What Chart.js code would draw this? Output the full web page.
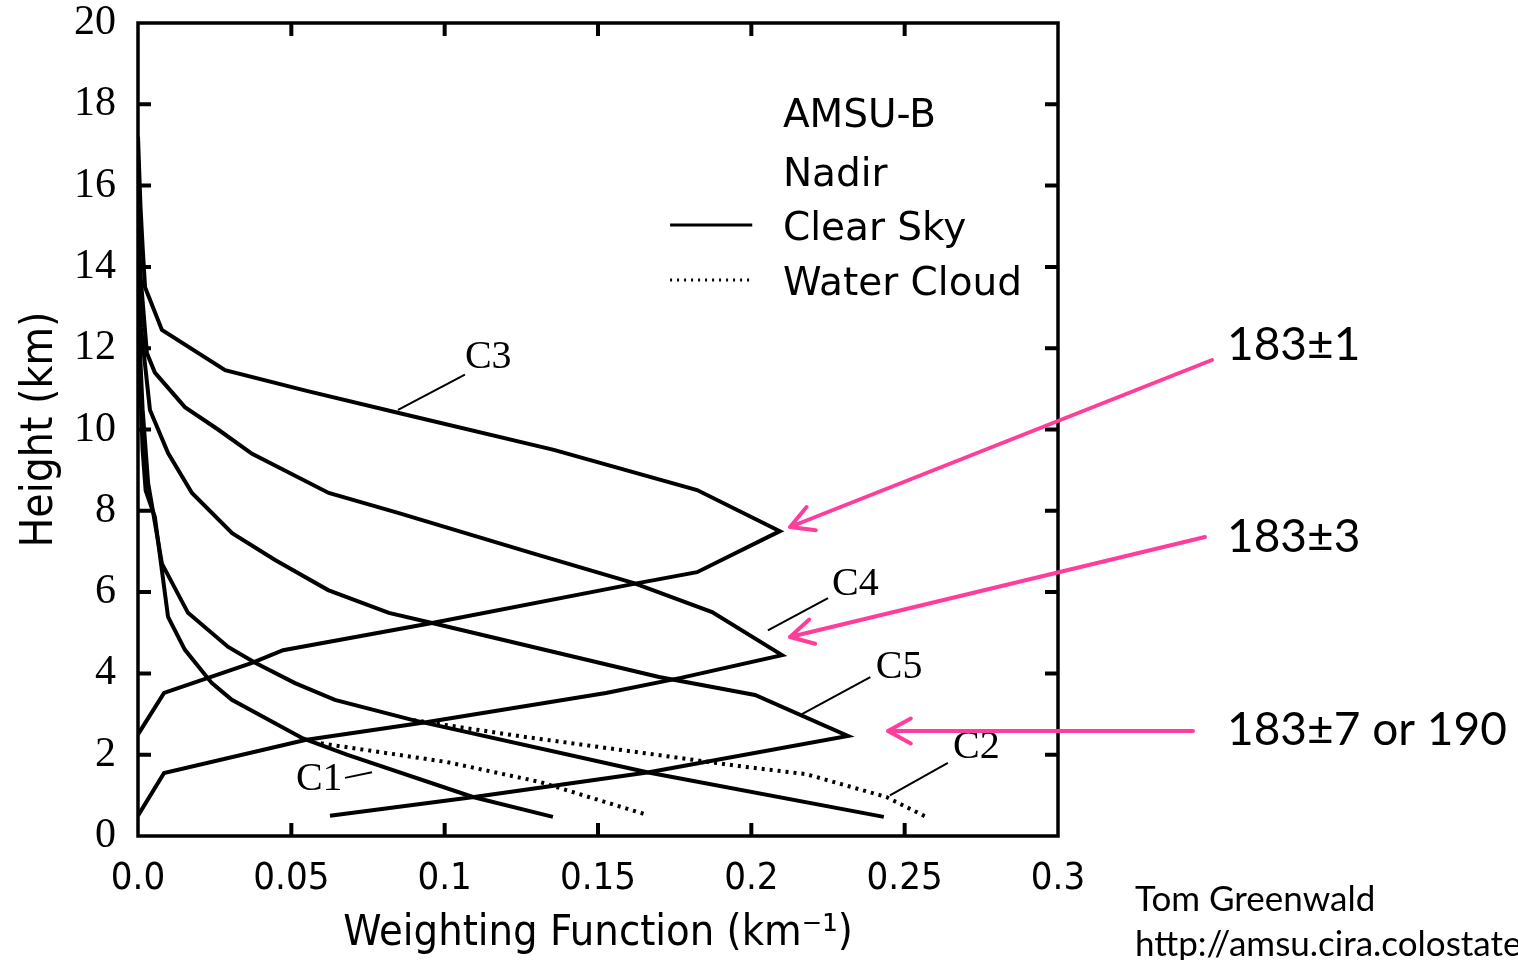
<!DOCTYPE html>
<html>
<head>
<meta charset="utf-8">
<title>AMSU-B Weighting Functions</title>
<script src="https://cdn.jsdelivr.net/npm/chart.js@4.4.0/dist/chart.umd.min.js"></script>
<style>
    html, body { margin: 0; padding: 0; background: #fff; }
    #wrap { width: 1518px; height: 960px; }
</style>
</head>
<body>
<div id="wrap"><canvas id="wfChart" width="1518" height="960"></canvas></div>
<script>
// DATA - weighting function (km^-1) vs height (km)
const xTicks = [0, 0.05, 0.1, 0.15, 0.2, 0.25, 0.3];
const yTicks = [0, 2, 4, 6, 8, 10, 12, 14, 16, 18, 20];

// 183±1
const c3Weight = [0, 0.0008, 0.0015, 0.0023, 0.0078, 0.0284, 0.055, 0.0854, 0.1356, 0.1823, 0.2093, 0.1823, 0.163, 0.0959, 0.0473, 0.0372, 0.0085, 0];
const c3Height = [17.2, 15.5, 14.5, 13.5, 12.45, 11.46, 10.95, 10.4, 9.5, 8.51, 7.5, 6.49, 6.22, 5.24, 4.57, 4.26, 3.52, 2.5];

// 183±3
const c4Weight = [0, 0.0008, 0.0029, 0.0055, 0.0153, 0.0261, 0.0372, 0.0622, 0.0848, 0.1285, 0.1617, 0.1872, 0.210, 0.177, 0.1526, 0.0939, 0.0545, 0.0085, 0];
const c4Height = [15.5, 13.8, 11.88, 11.4, 10.55, 10.0, 9.4, 8.44, 7.95, 6.96, 6.22, 5.51, 4.45, 3.89, 3.52, 2.80, 2.36, 1.55, 0.5];

// 183±7
const c5Weight = [0, 0.001, 0.0039, 0.0098, 0.0176, 0.0307, 0.0447, 0.062, 0.0818, 0.0959, 0.1699, 0.2012, 0.2315, 0.1666, 0.1096, 0.0626];
const c5Height = [14.5, 12.5, 10.48, 9.42, 8.44, 7.45, 6.79, 6.05, 5.49, 5.24, 3.91, 3.47, 2.46, 1.57, 0.96, 0.5];

// window channels
const c1Weight = [0, 0.0008, 0.0015, 0.0025, 0.0055, 0.0098, 0.0153, 0.0241, 0.0306, 0.0538, 0.0681, 0.1092, 0.1353];
const c1Height = [13.5, 11, 9.5, 8.5, 7.85, 5.39, 4.58, 3.76, 3.35, 2.40, 2.0, 0.96, 0.47];

const c2Weight = [0, 0.0015, 0.0033, 0.0078, 0.0163, 0.0294, 0.0382, 0.0512, 0.0642, 0.0897, 0.166, 0.2432];
const c2Height = [13, 10.5, 8.68, 6.7, 5.49, 4.65, 4.26, 3.76, 3.35, 2.85, 1.57, 0.47];

// water cloud cases (only differ below cloud top)
const c1CloudWeight = [0.0596, 0.1007, 0.131, 0.166];
const c1CloudHeight = [2.28, 1.82, 1.33, 0.52];

const c2CloudWeight = [0.0897, 0.125, 0.166, 0.196, 0.218, 0.244, 0.257];
const c2CloudHeight = [2.85, 2.45, 2.03, 1.72, 1.52, 0.96, 0.47];

function pts(w, h) {
    return w.map((v, i) => ({ x: v, y: h[i] }));
}

function solid(label, w, h) {
    return {
        label: label, data: pts(w, h), showLine: true,
        borderColor: '#000', borderWidth: 4, pointRadius: 0, tension: 0
    };
}

function dotted(label, w, h) {
    return {
        label: label, data: pts(w, h), showLine: true,
        borderColor: '#000', borderWidth: 4, borderDash: [3, 5], pointRadius: 0, tension: 0
    };
}

const PINK = '#ff3d9a';
const serif = "'Liberation Serif', serif";
const narrow = "'Liberation Sans Narrow', 'DejaVu Sans Condensed', 'DejaVu Sans', sans-serif";
const plain = "'DejaVu Sans', sans-serif";
const calib = "Lato, 'Open Sans', sans-serif";

// FRAME, INWARD TICKS AND ANNOTATIONS
const decorPlugin = {
    id: 'decor',
    afterDraw(chart) {
        const ctx = chart.ctx;
        const a = chart.chartArea;
        const xs = chart.scales.x, ys = chart.scales.y;
        const px = (x, y) => [xs.getPixelForValue(x), ys.getPixelForValue(y)];

        ctx.save();
        ctx.strokeStyle = '#000';
        ctx.lineWidth = 3.5;
        ctx.strokeRect(a.left, a.top, a.right - a.left, a.bottom - a.top);

        ctx.lineWidth = 4;
        ctx.beginPath();
        xTicks.slice(1, -1).forEach(v => {
            const p = xs.getPixelForValue(v);
            ctx.moveTo(p, a.bottom); ctx.lineTo(p, a.bottom - 13);
            ctx.moveTo(p, a.top); ctx.lineTo(p, a.top + 13);
        });
        yTicks.slice(1, -1).forEach(v => {
            const p = ys.getPixelForValue(v);
            ctx.moveTo(a.left, p); ctx.lineTo(a.left + 13, p);
            ctx.moveTo(a.right, p); ctx.lineTo(a.right - 13, p);
        });
        ctx.stroke();

        // legend block
        ctx.fillStyle = '#000';
        ctx.font = '39px ' + plain;
        ctx.textBaseline = 'middle';
        ctx.textAlign = 'left';
        let [lx] = px(0.2103, 0);
        ctx.fillText('AMSU-B', lx, ys.getPixelForValue(17.7));
        ctx.fillText('Nadir', lx, ys.getPixelForValue(16.25));
        ctx.fillText('Clear Sky', lx, ys.getPixelForValue(14.9));
        ctx.fillText('Water Cloud', lx, ys.getPixelForValue(13.55));

        const [s0] = px(0.1735, 0), [s1] = px(0.2003, 0);
        ctx.lineWidth = 3;
        ctx.beginPath();
        ctx.moveTo(s0, ys.getPixelForValue(15.03)); ctx.lineTo(s1, ys.getPixelForValue(15.03));
        ctx.stroke();
        ctx.setLineDash([2, 5]);
        ctx.beginPath();
        ctx.moveTo(s0, ys.getPixelForValue(13.68)); ctx.lineTo(s1, ys.getPixelForValue(13.68));
        ctx.stroke();
        ctx.setLineDash([]);

        // channel labels with leader lines
        const tags = [
            ['C3', [0.1066, 11.78], [0.1066, 11.35], [0.0848, 10.48]],
            ['C4', [0.2263, 6.18], [0.2250, 5.85], [0.2054, 5.06]],
            ['C5', [0.2406, 4.15], [0.2388, 3.91], [0.2165, 3.0]],
            ['C2', [0.2658, 2.18], [0.2641, 1.80], [0.2452, 1.0]],
            ['C1', [0.0515, 1.4], [0.0675, 1.43], [0.0763, 1.57]]
        ];
        ctx.font = '40px ' + serif;
        ctx.lineWidth = 2;
        tags.forEach(t => {
            const [tx, ty] = px(t[1][0], t[1][1]);
            ctx.textAlign = 'left';
            ctx.fillText(t[0], tx, ty);
            const [ax, ay] = px(t[2][0], t[2][1]);
            const [bx, by] = px(t[3][0], t[3][1]);
            ctx.beginPath(); ctx.moveTo(ax, ay); ctx.lineTo(bx, by); ctx.stroke();
        });

        // pink call-outs
        const arrows = [
            ['183±1', 1212, 360, 790, 527, 345],
            ['183±3', 1205, 537, 790, 637, 537],
            ['183±7 or 190', 1193, 731, 888, 731, 730]
        ];
        ctx.strokeStyle = PINK;
        ctx.lineWidth = 4;
        ctx.lineCap = 'round';
        arrows.forEach(r => {
            const [, x0, y0, x1, y1] = r;
            const ang = Math.atan2(y1 - y0, x1 - x0);
            ctx.beginPath();
            ctx.moveTo(x0, y0); ctx.lineTo(x1, y1);
            [-0.5, 0.5].forEach(d => {
                ctx.moveTo(x1, y1);
                ctx.lineTo(x1 - 26 * Math.cos(ang + d), y1 - 26 * Math.sin(ang + d));
            });
            ctx.stroke();
            ctx.fillStyle = '#000';
            ctx.font = '46px ' + calib;
            ctx.textAlign = 'left';
            ctx.fillText(r[0], 1227, r[5]);
        });

        ctx.font = '35px ' + calib;
        ctx.fillText('Tom Greenwald', 1135, 900);
        ctx.fillText('http://amsu.cira.colostate.edu/', 1135, 945);
        ctx.restore();
    }
};

// LOAD CHART
window.onload = function () {

    new Chart(document.getElementById('wfChart'), {
        type: 'scatter',
        data: {
            datasets: [
                solid('C3', c3Weight, c3Height),
                solid('C4', c4Weight, c4Height),
                solid('C5', c5Weight, c5Height),
                solid('C1', c1Weight, c1Height),
                solid('C2', c2Weight, c2Height),
                dotted('C1 cloud', c1CloudWeight, c1CloudHeight),
                dotted('C2 cloud', c2CloudWeight, c2CloudHeight)
            ]
        },
        options: {
            responsive: false,
            animation: false,
            devicePixelRatio: 1,
            layout: { padding: { top: 23, right: 460, left: 0, bottom: 0 } },
            plugins: { legend: { display: false }, tooltip: { enabled: false } },
            scales: {
                x: {
                    type: 'linear', min: 0, max: 0.3,
                    afterFit: s => { s.height = 124; s.paddingLeft = 0; s.paddingRight = 0; },
                    afterBuildTicks: s => { s.ticks = xTicks.map(v => ({ value: v })); },
                    grid: { display: false },
                    border: { display: false },
                    ticks: {
                        color: '#000', padding: 12, maxRotation: 0,
                        font: { family: narrow, size: 38 },
                        callback: v => v === 0 ? '0.0' : String(+v.toFixed(2))
                    },
                    title: {
                        display: true, text: 'Weighting Function (km⁻¹)', color: '#000',
                        font: { family: narrow, size: 43 }, padding: { top: 0, bottom: 0 }
                    }
                },
                y: {
                    type: 'linear', min: 0, max: 20,
                    afterFit: s => { s.width = 138; s.paddingTop = 0; s.paddingBottom = 0; },
                    afterBuildTicks: s => { s.ticks = yTicks.map(v => ({ value: v })); },
                    grid: { display: false },
                    border: { display: false },
                    ticks: {
                        color: '#000', padding: 14,
                        font: { family: serif, size: 42 }
                    },
                    title: {
                        display: true, text: 'Height (km)', color: '#000',
                        font: { family: narrow, size: 44 }, padding: { top: 14, bottom: 0 }
                    }
                }
            }
        },
        plugins: [decorPlugin]
    });

};
</script>
</body>
</html>
